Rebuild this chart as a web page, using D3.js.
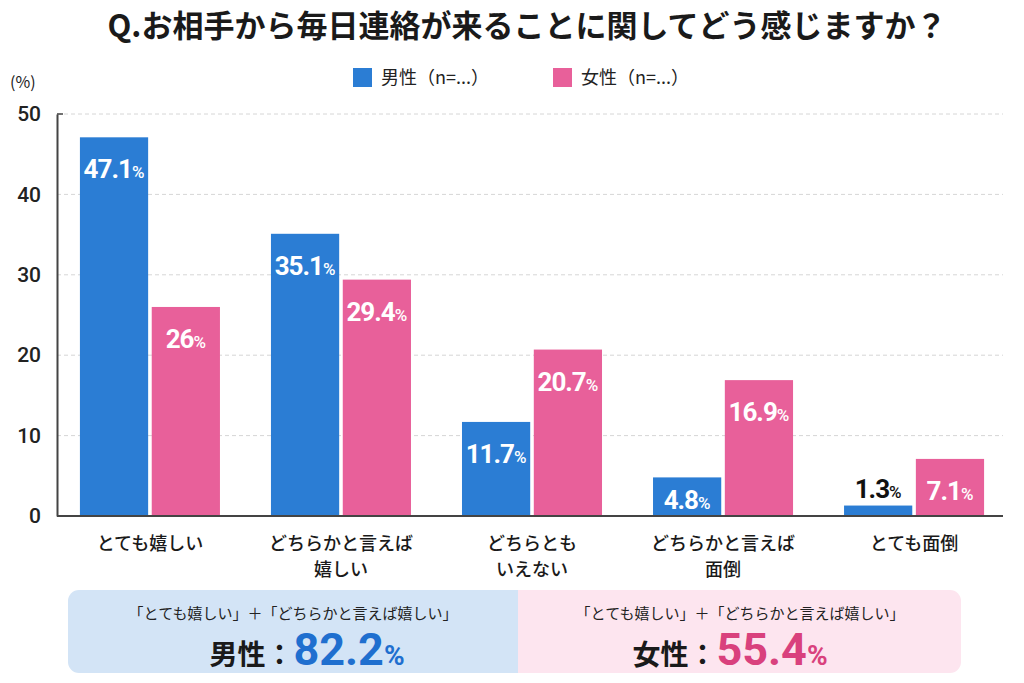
<!DOCTYPE html>
<html><head><meta charset="utf-8">
<script src="https://cdn.jsdelivr.net/npm/d3@7"></script>
<style>
html,body{margin:0;padding:0;background:#fff;}
svg{display:block;font-family:"Noto Sans CJK JP","Noto Sans",sans-serif;}
</style></head>
<body>
<svg id="chart" width="1024" height="683"></svg>
<script>
const title = "Q.お相手から毎日連絡が来ることに関してどう感じますか？";
const categories = ["とても嬉しい", "どちらかと言えば\n嬉しい", "どちらとも\nいえない", "どちらかと言えば\n面倒", "とても面倒"];
const seriesNames = ["男性", "女性"];
const legendLabels = ["男性（n=...）", "女性（n=...）"];
const maleValues = [47.1, 35.1, 11.7, 4.8, 1.3];
const femaleValues = [26, 29.4, 20.7, 16.9, 7.1];
const yTicks = [0, 10, 20, 30, 40, 50];
const summaryCaption = "「とても嬉しい」＋「どちらかと言えば嬉しい」";
const summaryValues = [82.2, 55.4];

const colors = {"男性": "#2b7dd4", "女性": "#e8609a"};
const svg = d3.select("#chart");

const x0 = d3.scaleBand().domain(categories).range([57, 1007]).paddingInner(0.267).paddingOuter(0.12);
const x1 = d3.scaleBand().domain(seriesNames).range([0, x0.bandwidth()]).paddingInner(0.05);
const y = d3.scaleLinear().domain([0, 50]).range([516, 114]);

// title
svg.append("text").attr("x", 527).attr("y", 37).attr("text-anchor", "middle")
  .attr("font-size", 31).attr("font-weight", 700).attr("fill", "#1a1a1a").text(title);

// legend
const legX = [353, 553];
seriesNames.forEach((s, i) => {
  svg.append("rect").attr("x", legX[i]).attr("y", 68).attr("width", 19).attr("height", 19).attr("fill", colors[s]);
  svg.append("text").attr("x", legX[i] + 28).attr("y", 84).attr("font-size", 18).attr("fill", "#222").text(legendLabels[i]);
});
svg.append("text").attr("x", 10).attr("y", 88).attr("font-size", 16).attr("fill", "#222").text("(%)");

// grid
svg.append("g").selectAll("line").data(yTicks.filter(t => t > 0)).join("line")
  .attr("x1", 57).attr("x2", 1003).attr("y1", d => y(d)).attr("y2", d => y(d))
  .attr("stroke", "#d6d6d6").attr("stroke-dasharray", "4,3").attr("stroke-width", 1);

// y axis
const yAxis = svg.append("g").attr("transform", "translate(57,0)")
  .call(d3.axisLeft(y).tickValues(yTicks).tickSize(0).tickPadding(16));
yAxis.select(".domain").attr("stroke", "#444").attr("stroke-width", 2);
yAxis.selectAll("text").attr("font-size", 21).attr("font-weight", 500).attr("fill", "#222")
  .attr("font-family", "Roboto, 'Noto Sans', sans-serif");
svg.append("line").attr("x1", 57).attr("x2", 63).attr("y1", y(50)).attr("y2", y(50)).attr("stroke", "#444").attr("stroke-width", 1.5);

// bars
const rows = categories.map((c, i) => ({cat: c, vals: [
  {s: "男性", v: maleValues[i]}, {s: "女性", v: femaleValues[i]}]}));
const g = svg.append("g").selectAll("g").data(rows).join("g")
  .attr("transform", d => `translate(${x0(d.cat)},0)`);
g.selectAll("rect").data(d => d.vals).join("rect")
  .attr("x", d => x1(d.s)).attr("y", d => y(d.v)).attr("width", x1.bandwidth())
  .attr("height", d => y(0) - y(d.v)).attr("fill", d => colors[d.s]);

const lab = g.selectAll("text.val").data(d => d.vals).join("text").attr("class", "val")
  .attr("x", d => x1(d.s) + x1.bandwidth() / 2)
  .attr("y", d => {
    const top = y(d.v);
    if (y(0) - top < 20) return top - 8;
    return Math.min(top + 41, 509);
  })
  .attr("text-anchor", "middle")
  .attr("fill", d => (y(0) - y(d.v) < 20) ? "#111" : "#fff")
  .attr("font-family", "Roboto, 'Noto Sans', sans-serif").attr("font-weight", 700);
lab.append("tspan").attr("font-size", 26).attr("letter-spacing", -1).text(d => d.v);
lab.append("tspan").attr("font-size", 17).attr("font-weight", 500).text("%");

// baseline
svg.append("line").attr("x1", 57).attr("x2", 1003).attr("y1", y(0)).attr("y2", y(0)).attr("stroke", "#444").attr("stroke-width", 2);

// category labels
categories.forEach(c => {
  const t = svg.append("text").attr("x", x0(c) + x0.bandwidth() / 2).attr("y", 550)
    .attr("text-anchor", "middle").attr("font-size", 18).attr("font-weight", 500).attr("fill", "#1a1a1a");
  c.split("\n").forEach((line, i) => {
    t.append("tspan").attr("x", x0(c) + x0.bandwidth() / 2).attr("dy", i === 0 ? 0 : 26).text(line);
  });
});

// summary box
const boxClip = svg.append("defs").append("clipPath").attr("id", "boxclip");
boxClip.append("rect").attr("x", 68).attr("y", 590).attr("width", 893).attr("height", 83).attr("rx", 11);
const bg = svg.append("g").attr("clip-path", "url(#boxclip)");
bg.append("rect").attr("x", 68).attr("y", 590).attr("width", 450).attr("height", 83).attr("fill", "#d3e4f6");
bg.append("rect").attr("x", 518).attr("y", 590).attr("width", 443).attr("height", 83).attr("fill", "#fde5ef");

const sumCenters = [293, 740];
const lineCenters = [307, 730];
const sumColors = ["#1f6fcf", "#d9417d"];
seriesNames.forEach((s, i) => {
  svg.append("text").attr("x", sumCenters[i]).attr("y", 619).attr("text-anchor", "middle")
    .attr("font-size", 15).attr("fill", "#222").text(summaryCaption);
  const t = svg.append("text").attr("x", lineCenters[i]).attr("y", 665).attr("text-anchor", "middle")
    .attr("font-weight", 700).attr("fill", "#1a1a1a");
  t.append("tspan").attr("font-size", 28).text(s + "：");
  t.append("tspan").attr("font-size", 45).attr("fill", sumColors[i]).attr("font-family", "Roboto, 'Noto Sans', sans-serif").text(summaryValues[i]);
  t.append("tspan").attr("font-size", 28).attr("fill", sumColors[i]).attr("font-family", "Roboto, 'Noto Sans', sans-serif").text("%");
});
</script>
</body></html>
